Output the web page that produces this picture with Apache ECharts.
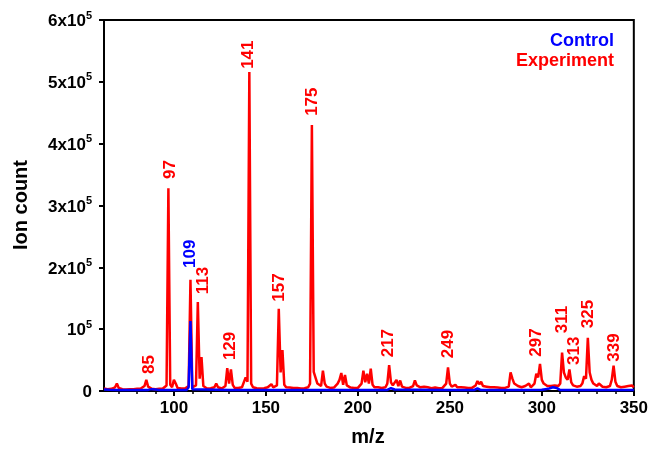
<!DOCTYPE html>
<html>
<head>
<meta charset="utf-8">
<script src="https://cdn.jsdelivr.net/npm/echarts@6/dist/echarts.min.js"></script>
<style>html,body{margin:0;padding:0;background:#fff}#c{width:651px;height:460px}</style>
</head>
<body>
<div id="c"></div>
<script>
// ---- data ----
const experiment = [
[62,4000],[63,3500],[64,3000],[65,3000],[66,3500],[67,4000],[68,6000],[69,12000],[70,5000],[71,3500],
[72,3000],[73,3000],[74,2500],[75,3000],[76,3000],[77,2500],[78,3000],[79,3000],[80,3500],[81,3000],
[82,4000],[83,5000],[84,8000],[85,18000],[86,7000],[87,4000],[88,3500],[89,4000],[90,3000],[91,3000],
[92,3500],[93,3000],[94,4000],[95,6000],[96,9000],[97,328000],[98,10000],[99,6000],[100,18000],[101,12000],
[102,5000],[103,4000],[104,4000],[105,3500],[106,4000],[107,4500],[108,8000],[109,180000],[110,6000],[111,5000],
[112,9000],[113,144000],[114,20000],[115,55000],[116,8000],[117,5000],[118,4000],[119,5000],[120,4500],[121,5000],
[122,6000],[123,12000],[124,6000],[125,5000],[126,4000],[127,5000],[128,8000],[129,37000],[130,12000],[131,35000],
[132,10000],[133,5000],[134,4500],[135,5000],[136,5000],[137,6000],[138,8000],[139,22000],[140,15000],[141,516000],
[142,12000],[143,6000],[144,5000],[145,4500],[146,5000],[147,4000],[148,5000],[149,4500],[150,5000],[151,6000],
[152,8000],[153,11000],[154,6000],[155,5000],[156,9000],[157,133000],[158,30000],[159,66000],[160,10000],[161,6000],
[162,5000],[163,5500],[164,4500],[165,5000],[166,6000],[167,5000],[168,4500],[169,4000],[170,5000],[171,4500],
[172,5000],[173,6000],[174,12000],[175,430000],[176,31000],[177,30000],[178,12000],[179,14000],[180,8000],[181,33000],
[182,12000],[183,7000],[184,6000],[185,5000],[186,6500],[187,5500],[188,8000],[189,12000],[190,18000],[191,29000],
[192,10000],[193,26000],[194,9000],[195,6000],[196,5500],[197,5000],[198,5000],[199,6000],[200,5000],[201,7000],
[202,12000],[203,33000],[204,14000],[205,28000],[206,12000],[207,36000],[208,10000],[209,6000],[210,8000],[211,6000],
[212,7000],[213,5000],[214,5500],[215,6000],[216,12000],[217,42000],[218,14000],[219,9000],[220,10000],[221,18000],
[222,8000],[223,17000],[224,7000],[225,6000],[226,5000],[227,5500],[228,5000],[229,6000],[230,8000],[231,17000],
[232,9000],[233,7000],[234,6000],[235,5500],[236,7000],[237,5000],[238,6000],[239,5000],[240,4500],[241,5000],
[242,5500],[243,5000],[244,4500],[245,5000],[246,5000],[247,6000],[248,12000],[249,38000],[250,12000],[251,7000],
[252,6000],[253,10000],[254,6000],[255,5000],[256,6000],[257,5000],[258,5500],[259,4500],[260,5000],[261,4500],
[262,5000],[263,6000],[264,9000],[265,16000],[266,11000],[267,15000],[268,8000],[269,6000],[270,7000],[271,10000],
[272,6000],[273,5000],[274,6000],[275,5000],[276,5500],[277,5000],[278,5000],[279,4500],[280,5000],[281,5500],
[282,7000],[283,30000],[284,20000],[285,12000],[286,9000],[287,8000],[288,7000],[289,6000],[290,6500],[291,8000],
[292,6000],[293,12000],[294,6000],[295,8000],[296,12000],[297,28000],[298,22000],[299,44000],[300,18000],[301,12000],
[302,10000],[303,8000],[304,7000],[305,8000],[306,6000],[307,9000],[308,7000],[309,8000],[310,12000],[311,62000],
[312,30000],[313,22000],[314,18000],[315,35000],[316,14000],[317,9000],[318,8000],[319,7000],[320,9000],[321,8000],
[322,12000],[323,24000],[324,20000],[325,86000],[326,30000],[327,18000],[328,12000],[329,10000],[330,8000],[331,12000],
[332,9000],[333,7000],[334,8000],[335,6000],[336,7000],[337,8000],[338,18000],[339,41000],[340,15000],[341,8000],
[342,10000],[343,6000],[344,8000],[345,7000],[346,6000],[347,8000],[348,6000],[349,9000],[350,6000]
];
const control = [
[62,2500],[65,2000],[70,1800],[80,1500],[86,1800],[88,3000],[89,6000],[90,2500],[92,1500],[100,1500],
[107,1800],[108,6000],[109,113000],[110,3000],[111,1500],[130,1500],[150,1500],[175,1500],[176,2000],[177,1500],
[200,1500],[216,1800],[217,3500],[218,4500],[219,5000],[220,2500],[221,1500],[248,1500],[249,2500],[250,1500],
[263,1500],[264,3000],[265,4000],[266,3000],[267,1500],[290,1500],[300,2000],[302,3000],[304,4000],[306,6000],
[307,8000],[308,5000],[309,2500],[310,1500],[324,1500],[325,3000],[326,1500],[350,1500]
];
const peakLabelText  = ['85','97','109','113','129','141','157','175','217','249','297','311','313','325','339'];
const peakLabelMz    = [86.4, 98, 108.8, 115.9, 130.9, 140.4, 157.1, 175.1, 216.8, 249.3, 297.2, 311.1, 317.6, 325.4, 339.3];
const peakLabelIon   = [27500, 343000, 199000, 156500, 50000, 521000, 144500, 445000, 54500, 53000, 55500, 93500, 42000, 101500, 47500];
const peakLabelSeries = ['Experiment','Experiment','Control','Experiment','Experiment','Experiment','Experiment','Experiment','Experiment','Experiment','Experiment','Experiment','Experiment','Experiment','Experiment'];
const xTickValues = [100, 150, 200, 250, 300, 350];
const xMinorTickValues = [70, 80, 90, 100, 110, 120, 130, 140, 150, 160, 170, 180, 190, 200, 210, 220, 230, 240, 250, 260, 270, 280, 290, 300, 310, 320, 330, 340, 350];
const yTickText = ['0', '10', '2x10', '3x10', '4x10', '5x10', '6x10'];
const yTickExp  = ['', '5', '5', '5', '5', '5', '5'];
const seriesNames = ['Control', 'Experiment'];

// ---- chart ----
const FONT = '"Liberation Sans", Arial, Helvetica, sans-serif';
const colors = { Control: '#0000ff', Experiment: '#ff0000' };
const chart = echarts.init(document.getElementById('c'), null, { renderer: 'canvas' });

chart.setOption({
  animation: false,
  backgroundColor: '#fff',
  grid: { left: 104, right: 17, top: 20, bottom: 69, show: true, borderColor: '#000', borderWidth: 2, backgroundColor: 'transparent' },
  xAxis: [
    {
      type: 'value', min: 62, max: 350, position: 'bottom',
      axisLine: { show: true, onZero: false, lineStyle: { color: '#000', width: 2 } },
      axisTick: { show: true, customValues: xTickValues, length: 5, lineStyle: { color: '#000', width: 2 } },
      axisLabel: { show: true, customValues: xTickValues, margin: 9, color: '#000', fontSize: 17, fontWeight: 'bold', fontFamily: FONT },
      splitLine: { show: false }
    },
    {
      type: 'value', min: 62, max: 350, position: 'bottom', offset: 0,
      axisLine: { show: false },
      axisTick: { show: true, customValues: xMinorTickValues, length: 3, lineStyle: { color: '#000', width: 1.5 } },
      axisLabel: { show: false },
      splitLine: { show: false }
    }
  ],
  yAxis: {
    type: 'value', min: 0, max: 600000, interval: 100000,
    axisLine: { show: true, lineStyle: { color: '#000', width: 2 } },
    axisTick: { show: true, length: 5, lineStyle: { color: '#000', width: 2 } },
    axisLabel: {
      margin: 12, color: '#000', fontSize: 17, fontWeight: 'bold', fontFamily: FONT,
      formatter: function (v) {
        const i = Math.round(v / 100000);
        if (!yTickExp[i]) return '{b|' + yTickText[i] + '}';
        return '{b|' + yTickText[i] + '}{s|' + yTickExp[i] + '}';
      },
      rich: {
        b: { fontSize: 17, fontWeight: 'bold', fontFamily: FONT, color: '#000', lineHeight: 20, verticalAlign: 'bottom' },
        s: { fontSize: 11, fontWeight: 'bold', fontFamily: FONT, color: '#000', lineHeight: 10, verticalAlign: 'top' }
      }
    },
    splitLine: { show: false }
  },
  graphic: [
    { type: 'text', x: 614, y: 41, z: 100, style: { text: seriesNames[0], fill: colors.Control, font: 'bold 18px ' + FONT, align: 'right', verticalAlign: 'middle' } },
    { type: 'text', x: 614, y: 61, z: 100, style: { text: seriesNames[1], fill: colors.Experiment, font: 'bold 18px ' + FONT, align: 'right', verticalAlign: 'middle' } },
    { type: 'text', x: 21, y: 205, rotation: Math.PI / 2, z: 100, style: { text: 'Ion count', fill: '#000', font: 'bold 20px ' + FONT, align: 'center', verticalAlign: 'middle' } },
    { type: 'text', x: 368, y: 437, z: 100, style: { text: 'm/z', fill: '#000', font: 'bold 20px ' + FONT, align: 'center', verticalAlign: 'middle' } }
  ],
  series: [
    {
      name: 'Experiment', type: 'line', xAxisIndex: 0, yAxisIndex: 0, data: experiment,
      symbol: 'none', showSymbol: false, silent: true, z: 2,
      lineStyle: { color: colors.Experiment, width: 2.5 }, itemStyle: { color: colors.Experiment }
    },
    {
      name: 'Control', type: 'line', xAxisIndex: 0, yAxisIndex: 0, data: control,
      symbol: 'none', showSymbol: false, silent: true, z: 3,
      lineStyle: { color: colors.Control, width: 2.5 }, itemStyle: { color: colors.Control }
    },
    {
      type: 'custom', xAxisIndex: 0, yAxisIndex: 0, silent: true, z: 4,
      data: peakLabelText.map(function (t, i) { return [peakLabelMz[i], peakLabelIon[i], i]; }),
      renderItem: function (params, api) {
        const i = api.value(2);
        const p = api.coord([api.value(0), api.value(1)]);
        return {
          type: 'text', x: p[0], y: p[1], rotation: Math.PI / 2,
          style: { text: peakLabelText[i], fill: colors[peakLabelSeries[i]], font: 'bold 17px ' + FONT, align: 'left', verticalAlign: 'middle' }
        };
      }
    }
  ]
});
</script>
</body>
</html>
